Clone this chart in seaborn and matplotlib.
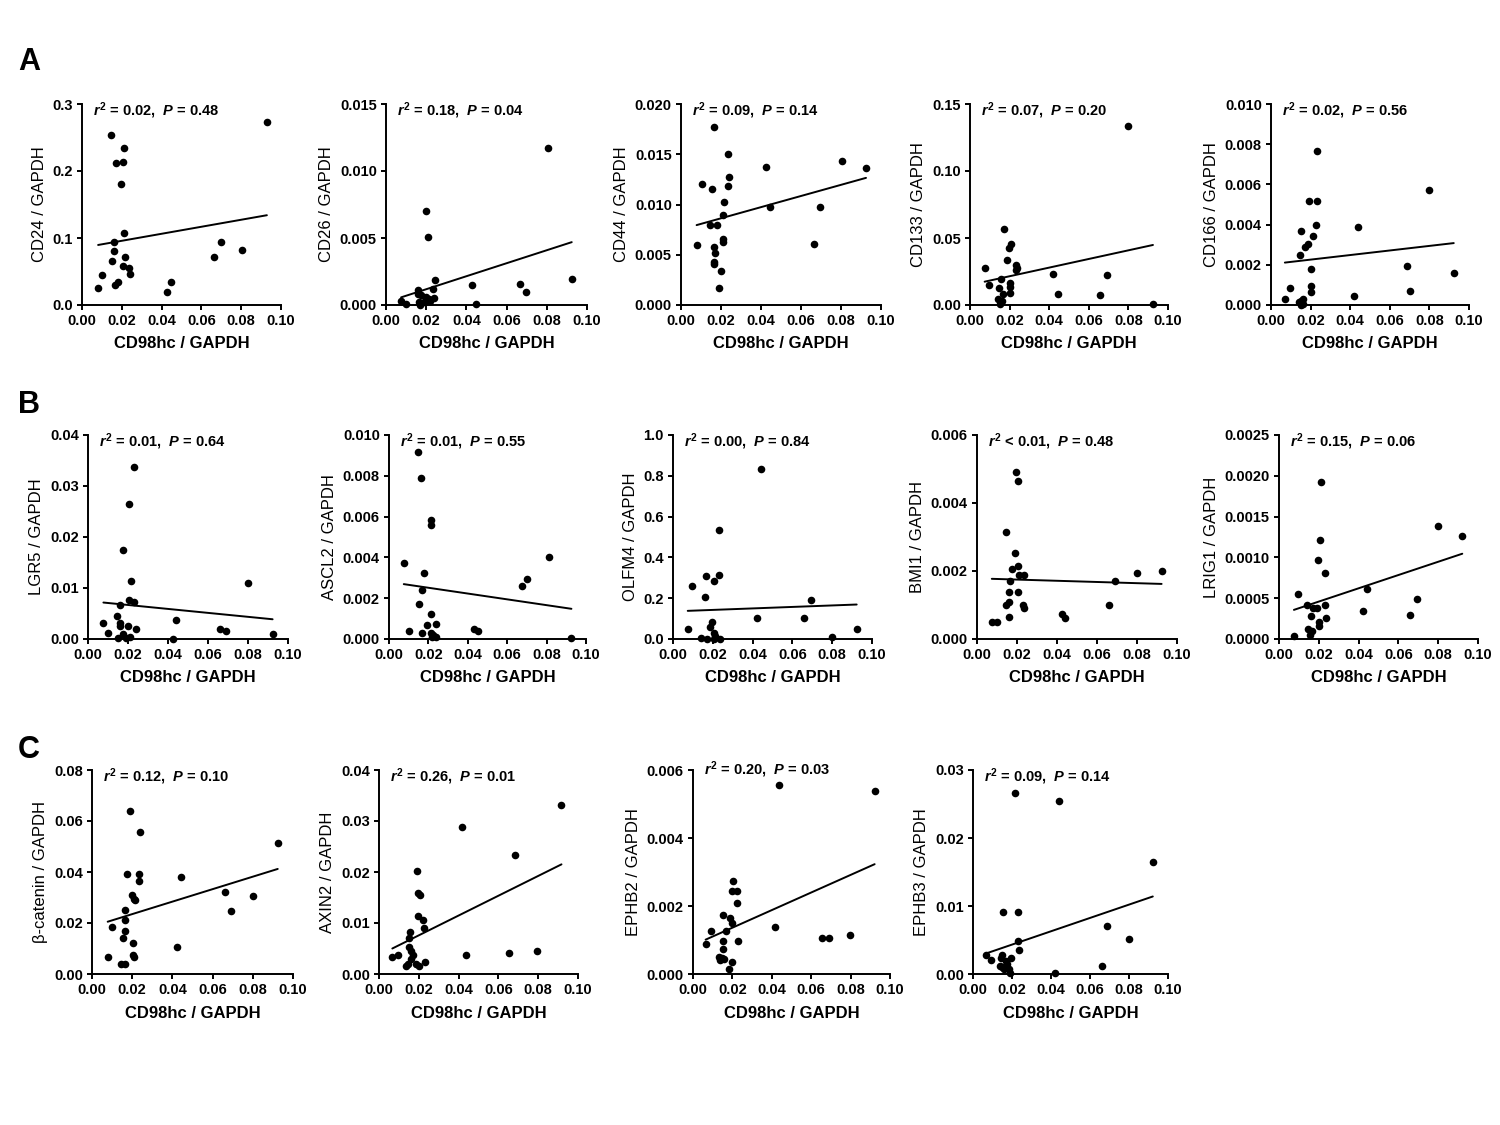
import numpy as np
import matplotlib.pyplot as plt
import seaborn as sns

# ---- data (x = CD98hc / GAPDH) ----
cd24_x = [0.0081, 0.0102, 0.0148, 0.0152, 0.0162, 0.0163, 0.0167, 0.0169, 0.0179, 0.0194, 0.0204, 0.0208,
          0.0210, 0.0210, 0.0215, 0.0237, 0.0240, 0.0427, 0.0448, 0.0665, 0.0696, 0.0804, 0.0929]
cd24_y = [0.025, 0.0455, 0.253, 0.065, 0.080, 0.094, 0.030, 0.212, 0.035, 0.180, 0.214, 0.058,
          0.235, 0.108, 0.071, 0.055, 0.0465, 0.019, 0.035, 0.071, 0.094, 0.082, 0.273]
cd24_fit = [0.0896, 0.134]

cd26_x = [0.0075, 0.0100, 0.0160, 0.0166, 0.0171, 0.0175, 0.0198, 0.0208, 0.0213, 0.0217, 0.0232,
          0.0240, 0.0244, 0.0429, 0.0450, 0.0665, 0.0695, 0.0804, 0.0924, 0.0160, 0.0190, 0.0200]
cd26_y = [0.0003, 0.0001, 0.0011, 0.0002, 0.0, 0.00075, 0.00704, 0.00504, 0.00045, 0.0003, 0.00122,
          0.00052, 0.00187, 0.0015, 0.00005, 0.00155, 0.0010, 0.01173, 0.00192, 0.0008, 0.0002, 0.0006]
cd26_fit = [0.00057, 0.00469]

cd44_x = [0.0078, 0.0104, 0.0145, 0.0154, 0.0164, 0.0165, 0.0167, 0.0167, 0.0170, 0.0179, 0.0192, 0.0202,
          0.0209, 0.0210, 0.0210, 0.0215, 0.0234, 0.0235, 0.0240, 0.0426, 0.0444, 0.0663, 0.0693, 0.0803, 0.0925]
cd44_y = [0.00596, 0.01208, 0.00792, 0.01158, 0.01767, 0.00576, 0.00426, 0.00403, 0.00519, 0.00792, 0.00166,
          0.00336, 0.00899, 0.00659, 0.00626, 0.01028, 0.01185, 0.01498, 0.01278, 0.01374, 0.00975, 0.00602,
          0.00975, 0.01428, 0.01361]
cd44_fit = [0.00795, 0.01265]

cd133_x = [0.0074, 0.0094, 0.0139, 0.0146, 0.0151, 0.0155, 0.0160, 0.0165, 0.0171, 0.0187, 0.0197, 0.0203,
           0.0203, 0.0203, 0.0208, 0.0230, 0.0232, 0.0235, 0.0420, 0.0442, 0.0659, 0.0692, 0.0800, 0.0924]
cd133_y = [0.0276, 0.0147, 0.0042, 0.0124, 0.0010, 0.0192, 0.0032, 0.0080, 0.0565, 0.0338, 0.0423, 0.0164,
           0.0134, 0.0090, 0.0453, 0.0259, 0.0296, 0.0276, 0.0231, 0.0082, 0.0075, 0.0226, 0.1336, 0.0010]
cd133_fit = [0.0174, 0.0448]

cd166_x = [0.0070, 0.0094, 0.0141, 0.0146, 0.0153, 0.0154, 0.0154, 0.0164, 0.0164, 0.0174, 0.0186, 0.0193,
           0.0200, 0.0203, 0.0203, 0.0210, 0.0227, 0.0230, 0.0233, 0.0420, 0.0440, 0.0688, 0.0703, 0.0797, 0.0923]
cd166_y = [0.0003, 0.00083, 0.00013, 0.00247, 0.0, 0.0002, 0.00368, 0.00007, 0.0003, 0.00289, 0.00302, 0.00516,
           0.00179, 0.00096, 0.00063, 0.00345, 0.00396, 0.00519, 0.00765, 0.00043, 0.00388, 0.00192, 0.00068,
           0.00574, 0.00161]
cd166_fit = [0.00211, 0.00308]

lgr5_x = [0.0077, 0.0100, 0.0144, 0.0150, 0.0160, 0.0160, 0.0162, 0.0173, 0.0173, 0.0190, 0.0200, 0.0206,
          0.0206, 0.0210, 0.0213, 0.0229, 0.0231, 0.0238, 0.0425, 0.0442, 0.0660, 0.0692, 0.0800, 0.0923]
lgr5_y = [0.0031, 0.0012, 0.0045, 0.0002, 0.0066, 0.0032, 0.0026, 0.0174, 0.0009, 0.0001, 0.0026, 0.0264,
          0.0077, 0.0003, 0.0113, 0.0072, 0.0337, 0.0020, 0.0000, 0.0038, 0.0019, 0.0016, 0.0109, 0.0010]
lgr5_fit = [0.00715, 0.00387]

ascl2_x = [0.0075, 0.0103, 0.0148, 0.0153, 0.0163, 0.0165, 0.0167, 0.0179, 0.0192, 0.0212, 0.0212, 0.0212,
           0.0212, 0.0220, 0.0224, 0.0239, 0.0241, 0.0430, 0.0450, 0.0674, 0.0703, 0.0814, 0.0926]
ascl2_y = [0.00374, 0.00041, 0.00918, 0.00172, 0.00787, 0.0003, 0.00239, 0.00325, 0.00069, 0.00584, 0.00561,
           0.00123, 0.00031, 0.00008, 0.00018, 0.00075, 0.0001, 0.00051, 0.00039, 0.00261, 0.00293, 0.00403, 0.00005]
ascl2_fit = [0.00269, 0.00148]

olfm4_x = [0.0074, 0.0097, 0.0141, 0.0159, 0.0164, 0.0171, 0.0188, 0.0198, 0.0204, 0.0204, 0.0206,
           0.0213, 0.0229, 0.0231, 0.0235, 0.0424, 0.0442, 0.0660, 0.0692, 0.0801, 0.0923]
olfm4_y = [0.051, 0.262, 0.007, 0.205, 0.311, 0.002, 0.059, 0.084, 0.285, 0.002, 0.031,
           0.013, 0.313, 0.534, 0.002, 0.102, 0.833, 0.102, 0.192, 0.008, 0.051]
olfm4_fit = [0.138, 0.169]

bmi1_x = [0.0074, 0.0100, 0.0144, 0.0147, 0.0159, 0.0160, 0.0162, 0.0167, 0.0174, 0.0191, 0.0197, 0.0204,
          0.0206, 0.0206, 0.0211, 0.0231, 0.0234, 0.0237, 0.0425, 0.0441, 0.0660, 0.0692, 0.0801, 0.0923]
bmi1_y = [0.0005, 0.0005, 0.00316, 0.00101, 0.00137, 0.00109, 0.00065, 0.00172, 0.00205, 0.00253, 0.0049,
          0.00464, 0.00215, 0.00137, 0.00189, 0.00099, 0.00189, 0.0009, 0.00075, 0.00062, 0.00101, 0.0017,
          0.00195, 0.00201]
bmi1_fit = [0.00177, 0.00162]

lrig1_x = [0.0075, 0.0097, 0.0142, 0.0146, 0.0158, 0.0159, 0.0166, 0.0173, 0.0191, 0.0196, 0.0203, 0.0203,
           0.0204, 0.0211, 0.0229, 0.0231, 0.0236, 0.0420, 0.0441, 0.0657, 0.0692, 0.0797, 0.0921]
lrig1_y = [0.000033, 0.000549, 0.000422, 0.000119, 0.000045, 0.000283, 0.000098, 0.000385, 0.000385, 0.000967,
           0.000205, 0.000156, 0.00121, 0.001926, 0.000422, 0.000811, 0.000262, 0.000344, 0.000607, 0.000291,
           0.000496, 0.00138, 0.00126]
lrig1_fit = [0.000357, 0.001045]

bcat_x = [0.0078, 0.0101, 0.0145, 0.0154, 0.0162, 0.0162, 0.0164, 0.0164, 0.0175, 0.0190, 0.0198, 0.0206,
          0.0206, 0.0208, 0.0210, 0.0213, 0.0232, 0.0234, 0.0238, 0.0425, 0.0444, 0.0661, 0.0693, 0.0800, 0.0924]
bcat_y = [0.0066, 0.0186, 0.0041, 0.0143, 0.0212, 0.0168, 0.0252, 0.0041, 0.0391, 0.0640, 0.0310, 0.0121,
          0.0073, 0.0066, 0.0296, 0.0292, 0.0391, 0.0365, 0.0556, 0.0105, 0.0382, 0.0323, 0.0247, 0.0307, 0.0515]
bcat_fit = [0.0205, 0.0412]

axin2_x = [0.0067, 0.0096, 0.0135, 0.0144, 0.0150, 0.0152, 0.0154, 0.0160, 0.0163, 0.0171, 0.0188, 0.0192,
           0.0198, 0.0204, 0.0198, 0.0202, 0.0221, 0.0225, 0.0231, 0.0417, 0.0437, 0.0654, 0.0683, 0.0794, 0.0917]
axin2_y = [0.0033, 0.0037, 0.0015, 0.0020, 0.0071, 0.0053, 0.0083, 0.0030, 0.0045, 0.0038, 0.0020, 0.0202,
           0.0159, 0.0155, 0.0113, 0.0015, 0.0106, 0.0090, 0.0024, 0.0289, 0.0037, 0.0041, 0.0233, 0.0045, 0.0332]
axin2_fit = [0.0050, 0.0215]

ephb2_x = [0.0064, 0.0091, 0.0130, 0.0138, 0.0148, 0.0151, 0.0151, 0.0151, 0.0155, 0.0165, 0.0181, 0.0190,
           0.0196, 0.0198, 0.0198, 0.0202, 0.0221, 0.0225, 0.0227, 0.0416, 0.0435, 0.0656, 0.0689, 0.0798, 0.0922]
ephb2_y = [0.00087, 0.00127, 0.00051, 0.00041, 0.00047, 0.00173, 0.00096, 0.00074, 0.00045, 0.00126, 0.00016,
           0.00166, 0.00035, 0.00245, 0.0015, 0.00275, 0.0021, 0.00245, 0.00097, 0.00139, 0.00557, 0.00105,
           0.00105, 0.00114, 0.00539]
ephb2_fit = [0.00101, 0.00323]

ephb3_x = [0.0065, 0.0090, 0.0140, 0.0145, 0.0150, 0.0150, 0.0153, 0.0160, 0.0167, 0.0176, 0.0186, 0.0190,
           0.0196, 0.0215, 0.0232, 0.0232, 0.0235, 0.0420, 0.0440, 0.0660, 0.0688, 0.0800, 0.0922]
ephb3_y = [0.0028, 0.0021, 0.0012, 0.0024, 0.0028, 0.0011, 0.0091, 0.0008, 0.0019, 0.0015, 0.0008, 0.0002,
           0.0023, 0.0266, 0.0091, 0.0049, 0.0035, 0.0002, 0.0255, 0.0012, 0.0071, 0.0051, 0.0164]
ephb3_fit = [0.0030, 0.0114]

# (x, y, fit, ylabel, annotation, ymax, ystep, decimals, axes box in px: left, right, top, bottom)
panels = [
    (cd24_x, cd24_y, cd24_fit, 'CD24 / GAPDH', ('=', '0.02', '0.48'), 0.3, 0.1, 1, (82, 281, 104, 305)),
    (cd26_x, cd26_y, cd26_fit, 'CD26 / GAPDH', ('=', '0.18', '0.04'), 0.015, 0.005, 3, (386, 587, 104, 305)),
    (cd44_x, cd44_y, cd44_fit, 'CD44 / GAPDH', ('=', '0.09', '0.14'), 0.020, 0.005, 3, (681, 881, 104, 305)),
    (cd133_x, cd133_y, cd133_fit, 'CD133 / GAPDH', ('=', '0.07', '0.20'), 0.15, 0.05, 2, (970, 1168, 104, 305)),
    (cd166_x, cd166_y, cd166_fit, 'CD166 / GAPDH', ('=', '0.02', '0.56'), 0.010, 0.002, 3, (1271, 1469, 104, 305)),
    (lgr5_x, lgr5_y, lgr5_fit, 'LGR5 / GAPDH', ('=', '0.01', '0.64'), 0.04, 0.01, 2, (88, 288, 435, 639)),
    (ascl2_x, ascl2_y, ascl2_fit, 'ASCL2 / GAPDH', ('=', '0.01', '0.55'), 0.010, 0.002, 3, (389, 586, 435, 639)),
    (olfm4_x, olfm4_y, olfm4_fit, 'OLFM4 / GAPDH', ('=', '0.00', '0.84'), 1.0, 0.2, 1, (673, 872, 435, 639)),
    (bmi1_x, bmi1_y, bmi1_fit, 'BMI1 / GAPDH', ('<', '0.01', '0.48'), 0.006, 0.002, 3, (977, 1177, 435, 639)),
    (lrig1_x, lrig1_y, lrig1_fit, 'LRIG1 / GAPDH', ('=', '0.15', '0.06'), 0.0025, 0.0005, 4, (1279, 1478, 435, 639)),
    (bcat_x, bcat_y, bcat_fit, 'β-catenin / GAPDH', ('=', '0.12', '0.10'), 0.08, 0.02, 2, (92, 293, 770, 974)),
    (axin2_x, axin2_y, axin2_fit, 'AXIN2 / GAPDH', ('=', '0.26', '0.01'), 0.04, 0.01, 2, (379, 578, 770, 974)),
    (ephb2_x, ephb2_y, ephb2_fit, 'EPHB2 / GAPDH', ('=', '0.20', '0.03'), 0.006, 0.002, 3, (693, 890, 770, 974)),
    (ephb3_x, ephb3_y, ephb3_fit, 'EPHB3 / GAPDH', ('=', '0.09', '0.14'), 0.03, 0.01, 2, (973, 1168, 770, 974)),
]

x_ticks = [0.00, 0.02, 0.04, 0.06, 0.08, 0.10]

sns.set_style('ticks')
plt.rcParams['font.family'] = ['Liberation Sans', 'DejaVu Sans']
plt.rcParams['mathtext.fontset'] = 'custom'
plt.rcParams['mathtext.rm'] = 'Liberation Sans:bold'
plt.rcParams['mathtext.it'] = 'Liberation Sans:italic:bold'
plt.rcParams['mathtext.bf'] = 'Liberation Sans:bold'
for key in ['text.color', 'axes.labelcolor', 'xtick.color', 'ytick.color', 'axes.edgecolor']:
    plt.rcParams[key] = 'black'

W, H = 1500, 1125
fig = plt.figure(figsize=(15, 11.25), dpi=100)

for x, y, fit, ylab, note, ymax, ystep, dec, box in panels:
    l, r, t, b = box
    ax = fig.add_axes([l / W, 1 - b / H, (r - l) / W, (b - t) / H])
    sns.scatterplot(x=x, y=y, ax=ax, color='black', s=30, linewidth=0,
                    clip_on=False, legend=False, zorder=3)
    # fitted regression line, spans the data range
    ax.plot([min(x), max(x)], fit, color='black', lw=1.4, zorder=2)

    ax.set_xlim(0, 0.10)
    ax.set_ylim(0, ymax)
    ax.set_xticks(x_ticks)
    ax.set_xticklabels([f'{v:.2f}' for v in x_ticks])
    yt = np.round(np.arange(0, ymax + ystep / 2, ystep), 6)
    ax.set_yticks(yt)
    ax.set_yticklabels([f'{v:.{dec}f}' for v in yt])
    for lab in ax.get_xticklabels() + ax.get_yticklabels():
        lab.set_fontweight('bold')
        lab.set_fontsize(10.5)
    ax.tick_params(direction='out', length=3.6, width=1.4, pad=3, colors='black')
    for s in ['left', 'bottom']:
        ax.spines[s].set_linewidth(1.4)
        ax.spines[s].set_color('black')
    sns.despine(ax=ax)

    ax.set_xlabel('CD98hc / GAPDH', fontsize=12, fontweight='bold', labelpad=6)
    ax.set_ylabel(ylab, fontsize=12, labelpad=4)

    op, r2, p = note
    ty = 1.0 if ylab.startswith('EPHB2') else 0.965
    ax.text(0.055, ty, rf'$r^{{2}}$ {op} {r2},  $P$ = {p}', transform=ax.transAxes,
            fontsize=10.5, fontweight='bold', va='center', ha='left')

for letter, yy in [('A', 62), ('B', 405), ('C', 750)]:
    fig.text(18 / W, 1 - yy / H, letter, fontsize=22, fontweight='bold', va='center', ha='left')

fig.savefig('out.png', dpi=100)
